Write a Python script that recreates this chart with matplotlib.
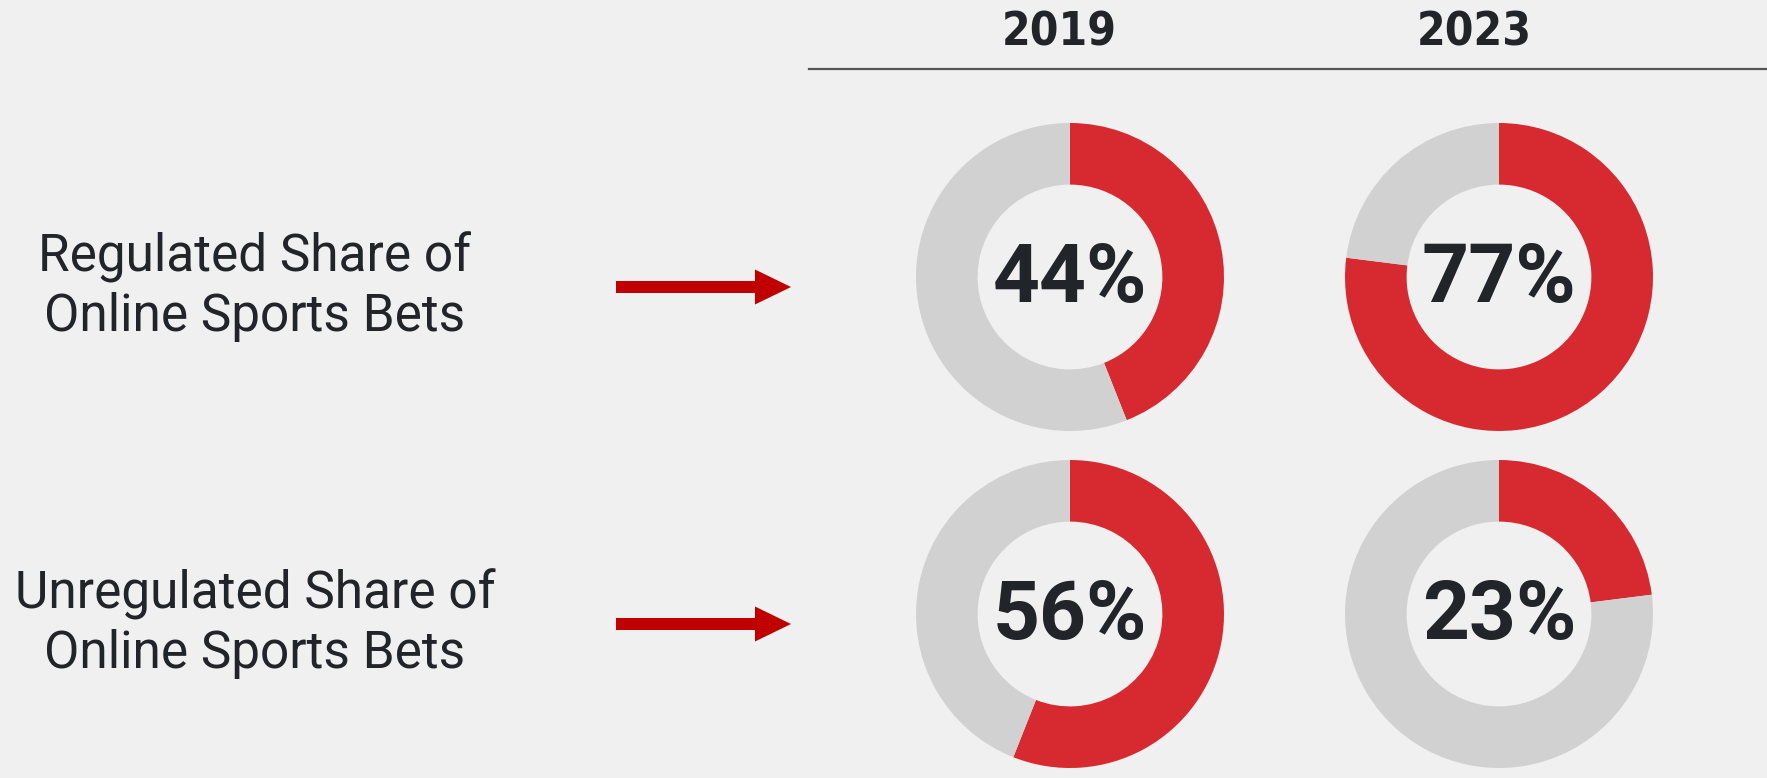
import matplotlib.pyplot as plt

# data
years = ['2019', '2023']
row_labels = ['Regulated Share of\nOnline Sports Bets', 'Unregulated Share of\nOnline Sports Bets']
regulated = [44, 77]
unregulated = [56, 23]

RED = '#D62A30'
GRAY = '#D1D1D1'
BG = '#F0F0F0'
DARK = '#212428'

W, H = 1767, 778
fig = plt.figure(figsize=(W / 100, H / 100), dpi=100, facecolor=BG)

# overlay axes in pixel coords for text, rule and arrows
ax = fig.add_axes([0, 0, 1, 1])
ax.set_xlim(0, W)
ax.set_ylim(H, 0)
ax.axis('off')

col_x = [1070, 1499]
head_x = [1059, 1474]
row_y = [277, 614]
R = 154

for x, yr in zip(head_x, years):
    ax.text(x, 33, yr, ha='center', va='center', fontsize=33, fontweight='bold',
            fontstretch='condensed', family='DejaVu Sans', color=DARK)
ax.plot([809, W], [69, 69], color='#555555', lw=1.6)

for y, lab in zip(row_y, row_labels):
    ax.text(255, y + 10, lab, ha='center', va='center', fontsize=37, fontweight='normal',
            family=['Roboto', 'DejaVu Sans'], color=DARK, linespacing=1.22)
    ax.arrow(616, y + 10, 175, 0, width=12, head_width=35, head_length=36,
             length_includes_head=True, color='#C00000', lw=0)

for r, shares in enumerate([regulated, unregulated]):
    for c, v in enumerate(shares):
        cx, cy = col_x[c], row_y[r]
        pa = fig.add_axes([(cx - R) / W, 1 - (cy + R) / H, 2 * R / W, 2 * R / H])
        pa.pie([v, 100 - v], colors=[RED, GRAY], startangle=90, counterclock=False,
               radius=1, wedgeprops=dict(width=0.4, linewidth=0))
        pa.set_xlim(-1, 1)
        pa.set_ylim(-1, 1)
        pa.set_aspect('equal')
        pa.axis('off')
        pa.text(0, -0.02, f'{v}%', ha='center', va='center', fontsize=59, fontweight='bold',
                fontstyle='normal', family=['Roboto', 'DejaVu Sans'], color=DARK)

fig.savefig('out.png', dpi=100, facecolor=BG)
